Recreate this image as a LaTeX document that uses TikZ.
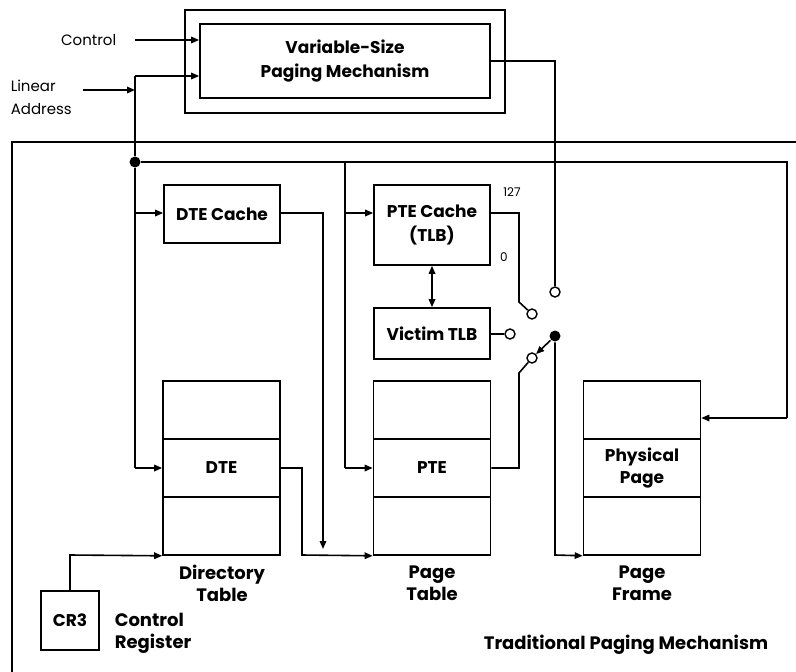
\documentclass[tikz,border=0pt]{standalone}
\usepackage{fontspec}
\setmainfont{Poppins}
\usetikzlibrary{arrows.meta,calc}
\begin{document}
\begin{tikzpicture}[x=1pt,y=-1pt,
  line width=1.6pt,
  box/.style={draw,line width=1.6pt,inner sep=0pt,align=center,font=\bfseries\fontsize{17}{24}\selectfont},
  lbl/.style={inner sep=0pt,align=center,font=\bfseries\fontsize{18}{22}\selectfont},
  thinlbl/.style={inner sep=0pt,align=left,font=\fontsize{15}{23}\selectfont},
  tip/.style={-{Triangle[length=8pt,width=6.5pt]}},
  sw/.style={circle,draw,fill=white,line width=1.4pt,minimum size=10pt,inner sep=0pt},
  dot/.style={circle,fill=black,minimum size=11pt,inner sep=0pt}]
\useasboundingbox (0,0) rectangle (796,672);
% Variable-size boxes
\node[box,minimum width=320pt,minimum height=103pt] (vout) at (345,61.5) {};
\node[box,minimum width=290pt,minimum height=74pt] (vin) at (345,61) {Variable-Size\\Paging Mechanism};
% Traditional box (open)
\draw (796,142) -- (12,142) -- (12,672);
% labels left
\node[thinlbl,anchor=east] (ctl) at (117,40) {Control};
\node[thinlbl,anchor=west] (lin) at (10,97) {Linear\\Address};
\coordinate (ctls) at (135,40);
\coordinate (lins) at (83,90);
% caches
\node[box,minimum width=116pt,minimum height=58pt] (dtec) at (222,214) {DTE Cache};
\node[box,minimum width=116pt,minimum height=80pt] (ptec) at (432,225) {PTE Cache\\(TLB)};
\node[box,minimum width=116pt,minimum height=51pt] (vic) at (432,333.5) {Victim TLB};
% tables
\foreach \n/\cx in {d/221.5,p/432,f/642}{
  \node[box,minimum width=117pt,minimum height=58pt] (\n1) at (\cx,410) {};
  \node[box,minimum width=117pt,minimum height=58pt] (\n3) at (\cx,526) {};
}
\node[box,minimum width=117pt,minimum height=58pt] (d2) at (221.5,468) {DTE};
\node[box,minimum width=117pt,minimum height=58pt] (p2) at (432,468) {PTE};
\node[box,minimum width=117pt,minimum height=58pt,font=\bfseries\fontsize{17}{22}\selectfont] (f2) at (642,468) {Physical\\Page};
\node[lbl] (dl) at (222,583) {Directory\\Table};
\node[lbl] (pl) at (432,583) {Page\\Table};
\node[lbl] (fl) at (642,583) {Page\\Frame};
% CR3
\node[box,minimum width=58pt,minimum height=59pt] (cr3) at (70,620.5) {CR3};
\node[lbl,align=left,anchor=west] (crl) at (114,633) {Control\\Register};
\node[lbl] (trad) at (626,645) {Traditional Paging Mechanism};
% small labels
\node[thinlbl,font=\fontsize{12}{14}\selectfont] (n127) at (512,192) {127};
\node[thinlbl,font=\fontsize{12}{14}\selectfont] (n0) at (504,257) {0};
% switch circles
\node[sw] (c1) at (555,292) {};
\node[sw] (c2) at (532,314) {};
\node[sw] (c3) at (510,334) {};
\node[sw] (c4) at (532,358) {};
\node[dot] (sd) at (555,336) {};
\node[dot,minimum size=11pt] (jd) at (135,162) {};
% connectors
\draw[tip] (ctls) -- (vin.west |- ctls);
\draw[tip] (lins) -- (135,90);
\draw (135,90) -- (135,76);
\draw[tip] (135,76) -- (vin.west |- 0,76);
\draw (135,90) -- (jd);
\draw (jd) -- (135,468);
\draw[tip] (135,213) -- (dtec.west |- 0,213);
\draw[tip] (135,468) -- (d2.west);
\draw (jd) -- (787,162) -- (787,418);
\draw[tip] (787,418) -- (f1.east |- 0,418);
\draw (345,162) -- (345,468);
\draw[tip] (345,213) -- (ptec.west |- 0,213);
\draw[tip] (345,468) -- (p2.west);
\draw[tip] (dtec.east |- 0,213) -- (323,213) -- (323,549);
\draw[tip] (d2.east) -- (302,468) -- (302,555) -- (p3.south west);
\draw[tip] (cr3.north) -- (70,555) -- (d3.south west);
\draw (ptec.east |- 0,213) -- (519,213) -- (519,302) -- (c2);
\draw (vic.east |- c3) -- (c3);
\draw (vin.east) -- (555,61) -- (c1);
\draw (p2.east) -- (519,468) -- (519,373) -- (c4);
\draw[tip] (sd) -- (c4);
\draw[tip] (sd) -- (555,555) -- (f3.south west);
\draw[{Triangle[length=8pt,width=6.5pt]}-{Triangle[length=8pt,width=6.5pt]}] (ptec.south) -- (vic.north);
\end{tikzpicture}
\end{document}
